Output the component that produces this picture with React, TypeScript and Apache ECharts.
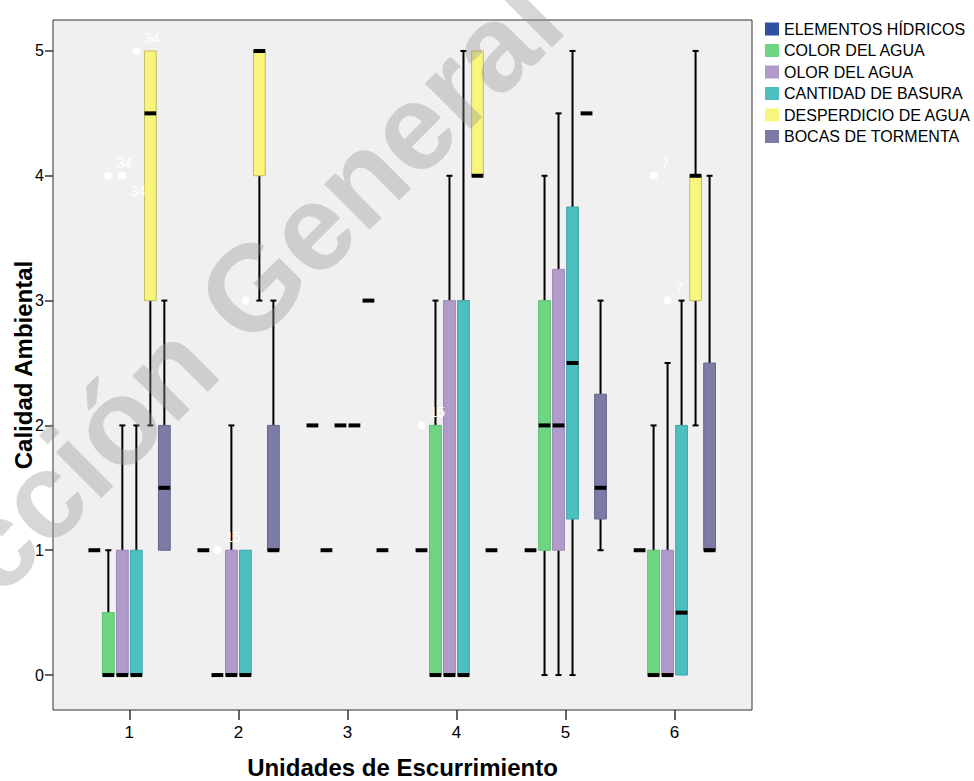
import React, { useEffect, useRef } from 'react';
import * as echarts from 'echarts';

const CATEGORIES = [1, 2, 3, 4, 5, 6];
const Y_TICKS = [0, 1, 2, 3, 4, 5];
const SERIES_NAMES = [
  'ELEMENTOS HÍDRICOS',
  'COLOR DEL AGUA',
  'OLOR DEL AGUA',
  'CANTIDAD DE BASURA',
  'DESPERDICIO DE AGUA',
  'BOCAS DE TORMENTA',
];

// Each row: [min, q1, median, q3, max] for categories 1..6
const ELEMENTOS_HIDRICOS = [
  [1, 1, 1, 1, 1],
  [1, 1, 1, 1, 1],
  [2, 2, 2, 2, 2],
  [1, 1, 1, 1, 1],
  [1, 1, 1, 1, 1],
  [1, 1, 1, 1, 1],
];
const COLOR_DEL_AGUA = [
  [0, 0, 0, 0.5, 1],
  [0, 0, 0, 0, 0],
  [1, 1, 1, 1, 1],
  [0, 0, 0, 2, 3],
  [0, 1, 2, 3, 4],
  [0, 0, 0, 1, 2],
];
const OLOR_DEL_AGUA = [
  [0, 0, 0, 1, 2],
  [0, 0, 0, 1, 2],
  [2, 2, 2, 2, 2],
  [0, 0, 0, 3, 4],
  [0, 1, 2, 3.25, 4.5],
  [0, 0, 0, 1, 2.5],
];
const CANTIDAD_DE_BASURA = [
  [0, 0, 0, 1, 2],
  [0, 0, 0, 1, 1],
  [2, 2, 2, 2, 2],
  [0, 0, 0, 3, 5],
  [0, 1.25, 2.5, 3.75, 5],
  [0, 0, 0.5, 2, 3],
];
const DESPERDICIO_DE_AGUA = [
  [2, 3, 4.5, 5, 5],
  [3, 4, 5, 5, 5],
  [3, 3, 3, 3, 3],
  [4, 4, 4, 5, 5],
  [4.5, 4.5, 4.5, 4.5, 4.5],
  [2, 3, 4, 4, 5],
];
const BOCAS_DE_TORMENTA = [
  [1, 1, 1.5, 2, 3],
  [1, 1, 1, 2, 3],
  [1, 1, 1, 1, 1],
  [1, 1, 1, 1, 1],
  [1, 1.25, 1.5, 2.25, 3],
  [1, 1, 1, 2.5, 4],
];
const SERIES_STATS = [
  ELEMENTOS_HIDRICOS,
  COLOR_DEL_AGUA,
  OLOR_DEL_AGUA,
  CANTIDAD_DE_BASURA,
  DESPERDICIO_DE_AGUA,
  BOCAS_DE_TORMENTA,
];

// Outliers: [seriesIndex, category, value, case label, label below marker (1) or above (0)]
const OUTLIERS: [number, number, number, string, number][] = [
  [1, 1, 4, '34', 0],
  [2, 1, 4, '34', 1],
  [3, 1, 5, '34', 0],
  [1, 2, 1, '15', 0],
  [3, 2, 3, '', 0],
  [0, 4, 2, '15', 0],
  [1, 6, 4, '7', 0],
  [2, 6, 3, '7', 0],
];

const COLORS = ['#2f4fa5', '#6ed683', '#b29bcb', '#4ebfc1', '#f7f57c', '#7b7ba6'];
const BORDERS = ['#203a80', '#5cbf70', '#9c86b6', '#3ea8aa', '#c2bb62', '#66668f'];

const FONT = '"Liberation Sans", Arial, Helvetica, sans-serif';
const SLOT = 0.1284; // offset between clustered boxes, in category units
const BOX_W = 0.108;

function slotX(si: number) {
  return (si - 2.5) * SLOT;
}

function makeBoxRender(si: number) {
  return (params: any, api: any) => {
    const cat = api.value(0);
    const vmin = api.value(1);
    const q1 = api.value(2);
    const med = api.value(3);
    const q3 = api.value(4);
    const vmax = api.value(5);
    const xc = api.coord([cat + slotX(si), 0])[0];
    const hw = api.size([BOX_W, 0])[0] / 2;
    const y = (v: number) => api.coord([cat, v])[1];
    const children: any[] = [];
    const wStyle = { stroke: '#000', lineWidth: 2 };
    const cap = 3;
    if (vmax > q3) {
      children.push({ type: 'line', shape: { x1: xc, y1: y(q3), x2: xc, y2: y(vmax) }, style: wStyle });
      children.push({ type: 'line', shape: { x1: xc - cap, y1: y(vmax), x2: xc + cap, y2: y(vmax) }, style: wStyle });
    }
    if (vmin < q1) {
      children.push({ type: 'line', shape: { x1: xc, y1: y(q1), x2: xc, y2: y(vmin) }, style: wStyle });
      children.push({ type: 'line', shape: { x1: xc - cap, y1: y(vmin), x2: xc + cap, y2: y(vmin) }, style: wStyle });
    }
    if (q3 > q1) {
      children.push({
        type: 'rect',
        shape: { x: xc - hw, y: y(q3), width: hw * 2, height: y(q1) - y(q3) },
        style: { fill: COLORS[si], stroke: BORDERS[si], lineWidth: 1 },
      });
    }
    children.push({
      type: 'rect',
      shape: { x: xc - hw, y: y(med) - 2, width: hw * 2, height: 4 },
      style: { fill: '#000' },
    });
    return { type: 'group', children };
  };
}

function renderOutlier(params: any, api: any) {
  const cat = api.value(0);
  const val = api.value(1);
  const si = api.value(2);
  const label = OUTLIERS[params.dataIndex][3];
  const below = OUTLIERS[params.dataIndex][4] === 1;
  const p = api.coord([cat + slotX(si), val]);
  const children: any[] = [
    { type: 'circle', shape: { cx: p[0], cy: p[1], r: 4 }, style: { fill: '#ffffff' } },
  ];
  if (label) {
    children.push({
      type: 'text',
      x: p[0] + 8,
      y: below ? p[1] + 8 : p[1] - 6,
      style: {
        text: label,
        fill: '#ffffff',
        fontSize: 14,
        fontFamily: FONT,
        align: 'left',
        verticalAlign: below ? 'top' : 'bottom',
      },
    });
  }
  return { type: 'group', children };
}

export default function App() {
  const ref = useRef<HTMLDivElement>(null);
  useEffect(() => {
    if (!ref.current) return;
    const chart = echarts.init(ref.current, undefined, { renderer: 'svg' });
    const boxSeries = SERIES_NAMES.map((name, si) => ({
      type: 'custom',
      name,
      itemStyle: { color: COLORS[si], borderColor: BORDERS[si] },
      renderItem: makeBoxRender(si),
      dimensions: ['cat', 'min', 'q1', 'median', 'q3', 'max'],
      encode: { x: 0, y: [1, 2, 3, 4, 5] },
      data: CATEGORIES.map((c, k) => [c, ...SERIES_STATS[si][k]]),
      z: 2,
    }));
    const option: any = {
      animation: false,
      backgroundColor: '#ffffff',
      textStyle: { fontFamily: FONT },
      grid: {
        left: 53,
        right: 222,
        top: 20,
        bottom: 71,
        show: true,
        containLabel: false,
        outerBoundsMode: 'none',
        backgroundColor: '#f0f0f0',
        borderColor: '#333333',
        borderWidth: 1,
      },
      legend: {
        orient: 'vertical',
        left: 765,
        top: 21,
        padding: 0,
        itemWidth: 14,
        itemHeight: 13,
        itemGap: 5.5,
        icon: 'rect',
        data: SERIES_NAMES,
        textStyle: { fontSize: 16, color: '#000', fontFamily: FONT, lineHeight: 16 },
        selectedMode: false,
      },
      xAxis: {
        type: 'value',
        min: 0.3,
        max: 6.71,
        name: 'Unidades de Escurrimiento',
        nameLocation: 'middle',
        nameGap: 47,
        nameMoveOverlap: false,
        nameTextStyle: { fontSize: 24, lineHeight: 20, fontWeight: 'bold', color: '#000', fontFamily: FONT },
        splitLine: { show: false },
        axisLine: { show: false, onZero: false },
        axisTick: { show: true, length: 10, customValues: CATEGORIES, lineStyle: { color: '#333', width: 1.5 } },
        axisLabel: { customValues: CATEGORIES, fontSize: 17, color: '#000', margin: 14, fontFamily: FONT },
      },
      yAxis: {
        type: 'value',
        min: -0.28,
        max: 5.248,
        name: 'Calidad Ambiental',
        nameLocation: 'middle',
        nameGap: 18,
        nameRotate: 90,
        nameMoveOverlap: false,
        nameTextStyle: { fontSize: 24, fontWeight: 'bold', color: '#000', fontFamily: FONT },
        splitLine: { show: false },
        axisLine: { show: false, onZero: false },
        axisTick: { show: true, length: 8, customValues: Y_TICKS, lineStyle: { color: '#333', width: 1.5 } },
        axisLabel: { customValues: Y_TICKS, fontSize: 16, color: '#000', margin: 9, fontFamily: FONT },
      },
      series: [
        ...boxSeries,
        {
          type: 'custom',
          name: 'outliers',
          renderItem: renderOutlier,
          dimensions: ['cat', 'value', 'series'],
          encode: { x: 0, y: 1 },
          data: OUTLIERS.map((o) => [o[1], o[2], o[0]]),
          z: 3,
        },
      ],
      graphic: [
        {
          type: 'text',
          x: -198,
          y: 738,
          rotation: Math.PI / 4,
          silent: true,
          z: 100,
          style: {
            text: 'Dirección General de Bibliotecas',
            fontSize: 122,
            fontWeight: 'bold',
            fontFamily: FONT,
            fill: 'rgba(150,150,150,0.38)',
            align: 'left',
            verticalAlign: 'middle',
          },
        },
      ],
    };
    chart.setOption(option);
    return () => chart.dispose();
  }, []);
  return (
    <div
      ref={ref}
      style={{ position: 'fixed', left: 0, top: 0, width: 974, height: 781, background: '#fff' }}
    />
  );
}
